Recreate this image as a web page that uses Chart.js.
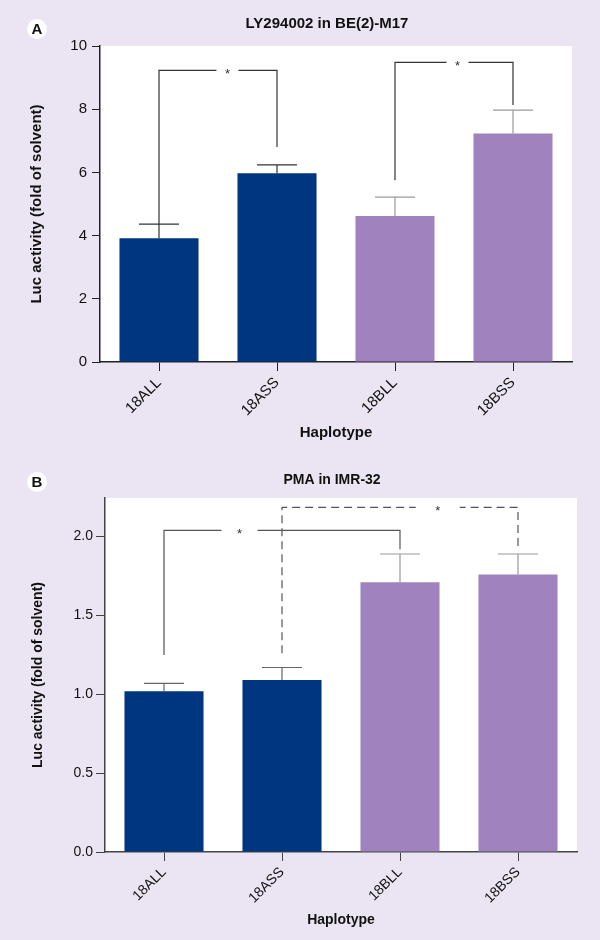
<!DOCTYPE html>
<html>
<head>
<meta charset="utf-8">
<title>Luc activity by haplotype</title>
<script src="https://cdn.jsdelivr.net/npm/chart.js@4.4.0/dist/chart.umd.min.js"></script>
<style>
  body { margin: 0; background: #ebe5f3; }
  #wrap { position: relative; width: 600px; height: 940px; }
  canvas { position: absolute; left: 0; }
  #chartA { top: 0; }
  #chartB { top: 470px; }
</style>
</head>
<body>
<div id="wrap">
  <canvas id="chartA" width="600" height="470"></canvas>
  <canvas id="chartB" width="600" height="470"></canvas>
</div>
<script>
// ---- data ----
const categories = ["18ALL", "18ASS", "18BLL", "18BSS"];
const lyMeans = [3.92, 5.97, 4.62, 7.23];
const lyErrors = [0.44, 0.27, 0.60, 0.74];
const pmaMeans = [1.02, 1.09, 1.71, 1.76];
const pmaErrors = [0.05, 0.08, 0.18, 0.13];
const lyTicks = [0, 2, 4, 6, 8, 10];
const pmaTicks = [0, 0.5, 1.0, 1.5, 2.0];
// significance brackets: [from, to, level, left leg end, right leg end]
const lyBrackets = [[0, 1, 9.23, 4.36, 6.8], [2, 3, 9.48, 5.75, 8.13]];
const pmaBrackets = [[0, 2, 2.04, 1.25, 1.92], [1, 3, 2.185, 1.26, 1.94]];

const BLUE = "#00357f";
const PURPLE = "#a083be";
const FONT = "'Liberation Sans', Arial, Helvetica, sans-serif";

// white plot area, title, panel letter, error bars and brackets
const panelPlugin = {
  id: "panel",
  beforeDraw(chart, args, opts) {
    const { ctx, chartArea: a } = chart;
    ctx.save();
    ctx.fillStyle = "#ffffff";
    ctx.fillRect(a.left, a.top, a.right - a.left, a.bottom - a.top);
    ctx.beginPath();
    ctx.arc(37, opts.letterY, 10, 0, Math.PI * 2);
    ctx.fill();
    ctx.fillStyle = "#111";
    ctx.font = "bold 15px " + FONT;
    ctx.textAlign = "center";
    ctx.textBaseline = "middle";
    ctx.fillText(opts.letter, 37, opts.letterY + 1);
    // panel title, a little left of the plot centre as in the figure
    ctx.font = "bold " + opts.titleSize + "px " + FONT;
    ctx.fillText(opts.title, (a.left + a.right) / 2 - 9, opts.titleY);
    ctx.restore();
  },
  afterDatasetsDraw(chart, args, opts) {
    const { ctx, scales: { x, y } } = chart;
    const means = chart.data.datasets[0].data;
    ctx.save();
    ctx.lineWidth = 1.2;
    opts.errors.forEach((e, i) => {
      const px = x.getPixelForValue(i);
      const top = y.getPixelForValue(means[i] + e);
      const base = y.getPixelForValue(means[i]);
      ctx.strokeStyle = opts.errColors[i];
      ctx.beginPath();
      ctx.moveTo(px, base);
      ctx.lineTo(px, top);
      ctx.moveTo(px - 20, top);
      ctx.lineTo(px + 20, top);
      ctx.stroke();
    });
    opts.brackets.forEach((b, k) => {
      const st = opts.bracketStyle[k];
      const x1 = x.getPixelForValue(b[0]);
      const x2 = x.getPixelForValue(b[1]);
      const yl = y.getPixelForValue(b[2]);
      const sx = x1 + (x2 - x1) * st.star;
      ctx.strokeStyle = opts.bracketColor;
      ctx.setLineDash(st.dash);
      ctx.beginPath();
      ctx.moveTo(x1, y.getPixelForValue(b[3]));
      ctx.lineTo(x1, yl);
      ctx.lineTo(sx - st.gap, yl);
      ctx.moveTo(x2, y.getPixelForValue(b[4]));
      ctx.lineTo(x2, yl);
      ctx.lineTo(sx + st.gap, yl);
      ctx.stroke();
      ctx.setLineDash([]);
      ctx.fillStyle = "#333";
      ctx.font = "13px " + FONT;
      ctx.textAlign = "center";
      ctx.textBaseline = "middle";
      ctx.fillText("*", sx, yl + 4);
    });
    ctx.restore();
  }
};

function makeChart(id, o) {
  const ink = o.axisColor;
  return new Chart(document.getElementById(id), {
    type: "bar",
    data: {
      labels: categories,
      datasets: [{
        data: o.means,
        backgroundColor: [BLUE, BLUE, PURPLE, PURPLE],
        borderWidth: 0,
        barPercentage: 0.67,
        categoryPercentage: 1
      }]
    },
    options: {
      responsive: false,
      animation: false,
      layout: { padding: o.padding },
      plugins: {
        legend: { display: false },
        tooltip: { enabled: false },
        title: { display: false },
        panel: o.panel
      },
      scales: {
        x: {
          grid: { offset: false, drawOnChartArea: false, tickLength: 9, color: ink },
          border: { color: ink, width: 1.5 },
          ticks: {
            minRotation: 45, maxRotation: 45, padding: 3,
            color: "#111", font: { family: FONT, size: o.fontSize }
          },
          title: {
            display: true, text: "Haplotype", color: "#111",
            font: { family: FONT, size: o.fontSize, weight: "bold" },
            padding: 0
          },
          afterFit: s => { s.height = o.xHeight; }
        },
        y: {
          min: 0,
          max: o.max,
          grid: { drawOnChartArea: false, tickLength: o.tickLen, color: ink },
          border: { color: ink, width: 1.5 },
          ticks: {
            padding: o.tickPad, color: "#111",
            font: { family: FONT, size: o.fontSize },
            callback: v => o.decimals ? v.toFixed(1) : v
          },
          afterBuildTicks: s => { s.ticks = o.ticks.map(v => ({ value: v })); },
          title: {
            display: true, text: "Luc activity (fold of solvent)", color: "#111",
            font: { family: FONT, size: o.fontSize, weight: "bold" },
            padding: 0
          },
          afterFit: s => { s.width = o.yWidth; }
        }
      }
    },
    plugins: [panelPlugin]
  });
}

makeChart("chartA", {
  means: lyMeans,
  ticks: lyTicks,
  max: 10,
  decimals: false,
  fontSize: 15,
  axisColor: "#222",
  padding: { left: 28, right: 28, top: 46, bottom: 28 },
  yWidth: 72,
  xHeight: 80,
  tickLen: 8,
  tickPad: 5,
  panel: {
    title: "LY294002 in BE(2)-M17", titleSize: 15, titleY: 24,
    letter: "A", letterY: 29,
    errors: lyErrors,
    errColors: ["#333", "#333", "#999", "#999"],
    brackets: lyBrackets,
    bracketColor: "#333",
    bracketStyle: [{ star: 0.58, gap: 11, dash: [] }, { star: 0.53, gap: 11, dash: [] }]
  }
});

makeChart("chartB", {
  means: pmaMeans,
  ticks: pmaTicks,
  max: 2.245,
  decimals: true,
  fontSize: 14,
  axisColor: "#444",
  padding: { left: 30, right: 23, top: 28, bottom: 11 },
  yWidth: 75,
  xHeight: 77,
  tickLen: 9,
  tickPad: 3,
  panel: {
    title: "PMA in IMR-32", titleSize: 14, titleY: 10,
    letter: "B", letterY: 12,
    errors: pmaErrors,
    errColors: ["#666", "#666", "#999", "#999"],
    brackets: pmaBrackets,
    bracketColor: "#555",
    bracketStyle: [{ star: 0.32, gap: 18, dash: [] }, { star: 0.66, gap: 22, dash: [8, 5] }]
  }
});
</script>
</body>
</html>
